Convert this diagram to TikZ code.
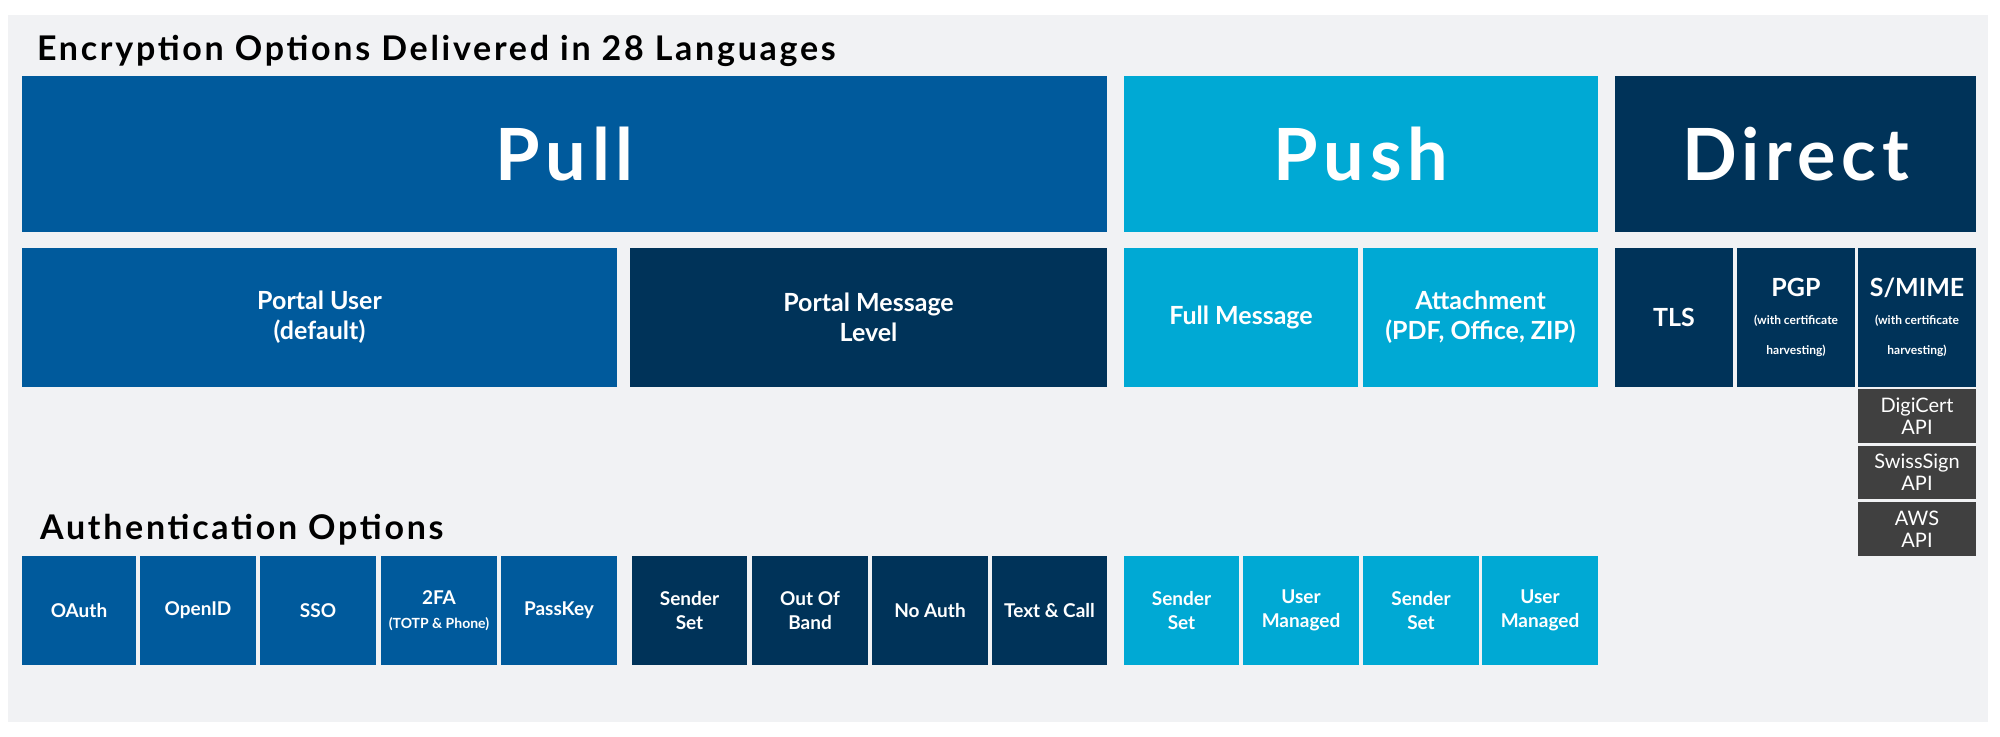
\documentclass[tikz,border=0pt]{standalone}
\usepackage{fontspec}
\setmainfont{Lato}
\newfontfamily\spaced[LetterSpace=8]{Lato}
\usetikzlibrary{positioning}

\definecolor{pullblue}{HTML}{005A9C}
\definecolor{navy}{HTML}{003359}
\definecolor{pushcyan}{HTML}{00A9D4}
\definecolor{apigray}{HTML}{404040}
\definecolor{panel}{HTML}{F1F2F4}

\newcommand{\notesize}{\fontsize{6}{6.5}\selectfont}
% box from (x1,y1) to (x2,y2) in pixels
\newcommand{\blk}[6]{\node[#1, minimum width={(#4-#2)*0.5pt}, minimum height={(#5-#3)*0.5pt}] (#6) at ({(#2+#4)/2},{(#3+#5)/2})}

\begin{document}
\begin{tikzpicture}[x=0.5pt, y=-0.5pt,
    box/.style={inner sep=0pt, text=white, align=center, font=\bfseries\fontsize{12.5}{15}\selectfont},
    big/.style={box, font=\spaced\bfseries\fontsize{36}{40}\selectfont},
    small/.style={box, font=\bfseries\fontsize{9.5}{12}\selectfont},
    api/.style={box, fill=apigray, font=\fontsize{10}{11}\selectfont}]
  \useasboundingbox (0,0) rectangle (2000,736);
  \fill[panel] (8,15) rectangle (1988,722);

  \node[anchor=base west, font=\spaced\bfseries\fontsize{17}{20}\selectfont] (enc) at (30,60) {Encryption Options Delivered in 28 Languages};
  \node[anchor=base west, font=\spaced\bfseries\fontsize{17}{20}\selectfont] (auth) at (33,539) {Authentication Options};

  % top row
  \blk{big, fill=pullblue}{22}{76}{1107}{232}{pull} {Pull};
  \blk{big, fill=pushcyan}{1124}{76}{1598}{232}{push} {Push};
  \blk{big, fill=navy}{1615}{76}{1976}{232}{direct} {Direct};

  % second row
  \blk{box, fill=pullblue}{22}{248}{617}{387}{puser} {Portal User\\(default)};
  \blk{box, fill=navy}{630}{248}{1107}{387}{pmsg} {Portal Message\\Level};
  \blk{box, fill=pushcyan}{1124}{248}{1358}{387}{full} {Full Message};
  \blk{box, fill=pushcyan}{1363}{248}{1598}{387}{attach} {Attachment\\(PDF, Office, ZIP)};
  \blk{box, fill=navy}{1615}{248}{1733}{387}{tls} {TLS};
  \blk{box, fill=navy}{1737}{248}{1855}{387}{pgp} {PGP\\[-1pt]\notesize(with certificate\\\notesize harvesting)};
  \blk{box, fill=navy}{1858}{248}{1976}{387}{smime} {S/MIME\\[-1pt]\notesize(with certificate\\\notesize harvesting)};

  % certificate APIs
  \blk{api}{1858}{389}{1976}{443}{digi} {DigiCert\\API};
  \blk{api}{1858}{446}{1976}{499}{swiss} {SwissSign\\API};
  \blk{api}{1858}{502}{1976}{556}{aws} {AWS\\API};

  % authentication row
  \blk{small, fill=pullblue}{22}{556}{136}{665}{oauth} {OAuth};
  \blk{small, fill=pullblue}{140}{556}{256}{665}{openid} {OpenID};
  \blk{small, fill=pullblue}{260}{556}{376}{665}{sso} {SSO};
  \blk{small, fill=pullblue}{381}{556}{497}{665}{twofa} {2FA\\\fontsize{7}{8}\selectfont(TOTP \& Phone)};
  \blk{small, fill=pullblue}{501}{556}{617}{665}{passkey} {PassKey};
  \blk{small, fill=navy}{632}{556}{747}{665}{sender} {Sender\\Set};
  \blk{small, fill=navy}{752}{556}{868}{665}{oob} {Out Of\\Band};
  \blk{small, fill=navy}{872}{556}{988}{665}{noauth} {No Auth};
  \blk{small, fill=navy}{992}{556}{1107}{665}{textcall} {Text \& Call};
  \blk{small, fill=pushcyan}{1124}{556}{1239}{665}{sendera} {Sender\\Set};
  \blk{small, fill=pushcyan}{1243}{556}{1359}{665}{usera} {User\\Managed};
  \blk{small, fill=pushcyan}{1363}{556}{1479}{665}{senderb} {Sender\\Set};
  \blk{small, fill=pushcyan}{1482}{556}{1598}{665}{userb} {User\\Managed};
\end{tikzpicture}
\end{document}
